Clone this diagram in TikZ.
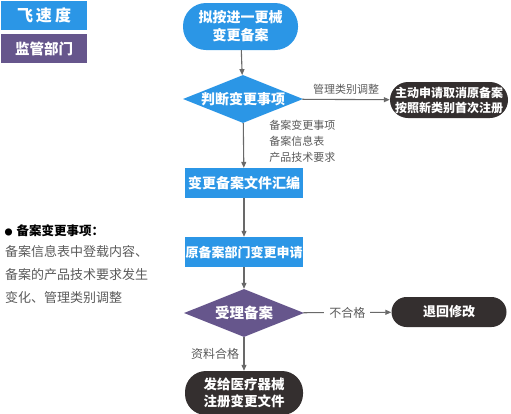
\documentclass[tikz,border=0pt]{standalone}
\usepackage{fontspec}
\setmainfont{Noto Sans CJK SC}
\usetikzlibrary{shapes.geometric, arrows.meta, positioning}
\definecolor{cblue}{RGB}{43,150,230}
\definecolor{cpurp}{RGB}{102,86,140}
\definecolor{cdark}{RGB}{52,47,47}
\definecolor{cline}{RGB}{105,105,105}
\definecolor{ctext}{RGB}{90,90,90}

\begin{document}
\begin{tikzpicture}[x=1pt,y=-1pt,
	pill/.style={rectangle,rounded corners=#1,text=white,align=center,inner sep=0},
	box/.style={rectangle,fill=cblue,text=white,inner sep=0,
		minimum width=118,minimum height=30},
	dia/.style={diamond,shape aspect=2.5,inner sep=0,text=white,
		minimum width=120,minimum height=48},
	lbl/.style={text=ctext,font=\fontsize{11}{16}\selectfont},
	arr/.style={draw=cline,line width=1.1pt,-{Triangle[length=6pt,width=5pt]}}]
	\useasboundingbox (0,0) rectangle (511,413);
	% legend
	\node[rectangle,fill=cblue,text=white,minimum width=86,minimum height=29,
		font=\bfseries\fontsize{16}{16}\selectfont] (t1) at (44,15.5) {飞\hspace{3pt}速\hspace{3pt}度};
	\node[rectangle,fill=cpurp,text=white,minimum width=86,minimum height=29,
		font=\bfseries\fontsize{14.5}{16}\selectfont] (t2) at (44,48.5) {监管部门};
	% flow
	\node[pill=23,fill=cblue,minimum width=115,minimum height=47,
		font=\bfseries\fontsize{14}{18}\selectfont] (a) at (240.5,26.5) {拟按进一更械\\变更备案};
	\node[dia,fill=cblue,font=\bfseries\fontsize{14}{16}\selectfont] (d1) at (243,99) {判断变更事项};
	\node[pill=18,fill=cdark,minimum width=118,minimum height=36,
		font=\bfseries\fontsize{12}{15}\selectfont] (b1) at (449,100) {主动申请取消原备案\\按照新类别首次注册};
	\node[box,font=\bfseries\fontsize{14}{16}\selectfont] (r1) at (244,183) {变更备案文件汇编};
	\node[box,font=\bfseries\fontsize{13}{16}\selectfont] (r2) at (244,252) {原备案部门变更申请};
	\node[dia,fill=cpurp,font=\bfseries\fontsize{14.5}{16}\selectfont] (d2) at (244,313) {受理备案};
	\node[pill=15,fill=cdark,minimum width=115,minimum height=30,
		font=\bfseries\fontsize{13}{16}\selectfont] (b2) at (449,312) {退回修改};
	\node[pill=21,fill=cdark,minimum width=118,minimum height=44,
		font=\bfseries\fontsize{13.5}{17}\selectfont] (b3) at (244,393) {发给医疗器械\\注册变更文件};
	\draw[arr] (a) -- (d1);
	\draw[arr] (d1) -- node[lbl,above=1pt] {管理类别调整} (b1);
	\draw[arr] (d1) -- node[lbl,pos=.4,right=22pt,align=left] {备案变更事项\\备案信息表\\产品技术要求} (r1);
	\draw[arr] (r1) -- (r2);
	\draw[arr] (r2) -- (d2);
	\draw[arr] (d2) -- node[lbl,fill=white,inner sep=5pt,font=\fontsize{12}{14}\selectfont] {不合格} (b2);
	\draw[arr] (d2) -- node[lbl,left=1pt,font=\fontsize{12}{14}\selectfont] {资料合格} (b3);
	% note
	\node[anchor=west,font=\bfseries\fontsize{12.5}{14}\selectfont] (n0) at (1,231) {{\fontsize{8}{8}\selectfont ●}\hspace{4pt}备案变更事项：};
	\node[anchor=north west,text=ctext,align=left,inner sep=0,
		font=\fontsize{13}{23}\selectfont] (n1) at (5,245) {备案信息表中登载内容、\\备案的产品技术要求发生\\变化、管理类别调整};
\end{tikzpicture}
\end{document}
